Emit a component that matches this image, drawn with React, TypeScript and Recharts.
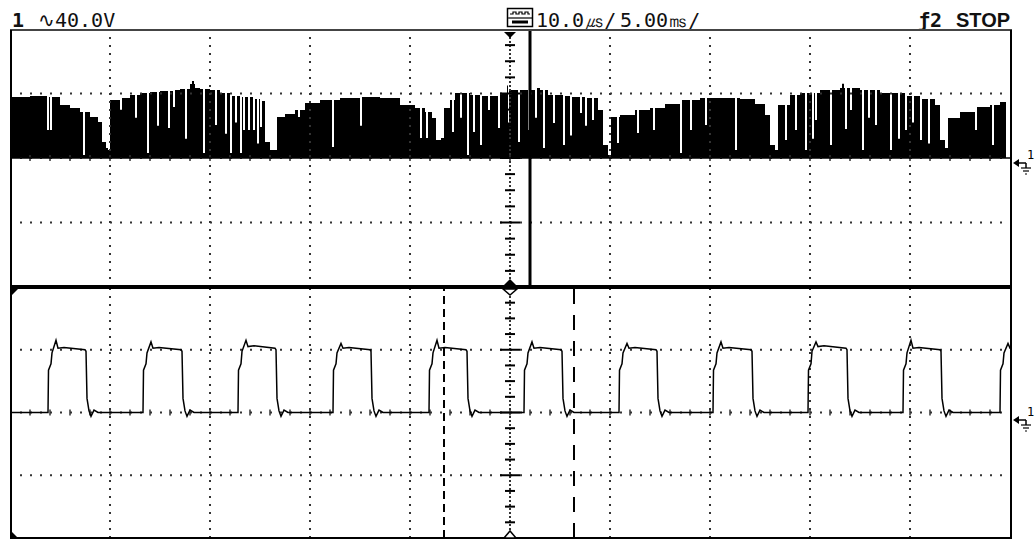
import React from 'react'
import { ComposedChart, Area, Line, XAxis, YAxis, ReferenceLine } from 'recharts'

// upper window: main sweep, 5.00 ms/div, 40.0 V/div (time in ms, level in V)
const envelopeMs = [
  0, 1.0, 1.85, 2.1, 2.5, 3.0, 3.5, 4.0, 4.4, 4.6, 4.8, 4.9,
  5.0, 5.5, 6.0, 6.5, 7.0, 7.5, 8.0, 8.5, 9.0, 9.25, 9.5, 10.0, 10.5, 11.0, 11.5, 12.0, 12.5, 12.75, 13.0,
  13.35, 13.75, 14.25, 14.75, 15.5, 16.5, 17.5, 18.5, 19.5, 20.25, 20.75, 21.1, 21.3, 21.55,
  21.7, 22.0, 22.25, 23.0, 23.5, 24.0, 24.5, 25.0, 25.5, 26.0, 26.5, 26.9, 27.25, 28.0, 28.75, 29.4, 29.65, 29.9,
  30.05, 30.5, 31.25, 32.0, 32.75, 33.5, 34.5, 35.5, 36.5, 37.25, 37.75, 38.0, 38.25,
  38.4, 39.0, 39.5, 40.5, 41.5, 42.5, 43.5, 44.5, 45.5, 46.25, 46.5, 46.75,
  46.9, 47.5, 48.25, 49.0, 49.5, 49.8,
]
const envelopeV = [
  37.8, 38.4, 37.8, 34.1, 32.9, 31.0, 28.5, 25.4, 22.3, 9.9, 6.2, 5.0,
  36.0, 37.2, 39.1, 40.3, 40.9, 41.5, 42.2, 42.8, 45.9, 43.4, 42.8, 42.2, 40.3, 38.4, 37.8, 36.6, 35.3, 9.9, 5.0,
  25.4, 27.3, 29.8, 34.1, 36.0, 37.2, 37.8, 37.2, 32.9, 31.0, 28.5, 24.8, 11.2, 12.4,
  31.0, 36.0, 40.3, 39.1, 38.4, 40.3, 42.2, 42.2, 42.2, 43.4, 42.2, 39.1, 38.4, 37.8, 37.2, 29.8, 8.1, 1.9,
  25.4, 26.7, 29.8, 31.0, 33.5, 36.0, 37.2, 37.2, 36.6, 33.5, 26.7, 8.1, 5.0,
  32.9, 39.1, 40.3, 42.2, 43.4, 42.2, 40.3, 38.4, 36.6, 32.9, 11.2, 6.2,
  24.8, 28.5, 31.6, 32.9, 34.7, 0,
]
// thin white notches cut into the burst (and a few spikes standing above it)
const gapMs = [
  1.85, 2.0, 3.65, 5.5, 6.25, 6.85, 7.35, 7.9, 8.15, 8.75, 9.1, 9.65, 10.25, 10.75, 11.0, 11.25, 11.5,
  11.65, 11.9, 12.15, 12.35, 12.5,
  14.4, 16.1, 17.5, 20.5, 20.8, 22.1, 22.5, 22.85, 23.15, 23.5, 23.9, 24.4, 24.85, 24.9, 25.4, 25.9,
  26.25, 26.65, 27.15, 27.65, 28.0, 28.5, 28.75, 29.1,
  30.35, 31.35, 32.15, 33.5, 34.0, 34.75, 36.25, 38.75, 39.25, 39.75, 40.1, 40.25, 41.0, 41.6, 41.75,
  42.0, 42.6, 42.9, 43.25, 44.0, 44.4, 44.75, 45.1, 45.5, 45.9, 48.25, 49.1,
]
const gapV = [
  17.4, 17.4, 1.9, 30.0, 25.0, 3.1, 20.0, 18.6, 31.6, 12.0, 47.7, 3.1, 20.5, 15.0, 3.1, 22.0, 3.1,
  17.4, 17.4, 17.4, 9.0, 19.2,
  25.4, 6.8, 20.0, 12.4, 12.4, 16.1, 25.0, 1.9, 16.1, 8.0, 29.8, 18.6, 45.0, 22.0, 10.0, 17.4,
  25.0, 6.2, 21.7, 8.1, 14.0, 27.9, 20.0, 23.6,
  9.3, 15.5, 17.4, 3.1, 17.4, 20.5, 5.0, 11.2, 17.4, 5.0, 12.0, 23.6, 8.1, 46.0, 18.0,
  29.8, 5.0, 25.0, 20.5, 5.0, 12.0, 17.4, 22.0, 11.2, 9.0, 17.4, 8.1,
]

// lower window: 10.0 µs/div (time in µs, level in V)
const riseUs = [3.8, 13.3, 22.8, 32.3, 41.9, 51.4, 60.9, 70.3, 79.8, 89.3, 99.0]
const fallUs = [7.6, 17.2, 26.6, 36.1, 45.7, 55.2, 64.7, 74.2, 83.7, 93.1]
const peakV = [46, 45, 46, 44, 46, 45, 44, 45, 45, 46, 44]
const highV = [40, 40, 41, 40, 40, 40, 40, 40, 41, 40, 40]

const cursorUs = [43.4, 56.4]
const delayMs = 26

const topGridMs = [5, 10, 15, 20, 30, 35, 40, 45]
const bottomGridUs = [10, 20, 30, 40, 60, 70, 80, 90]
const gridV = [-40, 40]

const topData = (() => {
  const pts = envelopeMs.map((t, i) => ({ t, v: envelopeV[i] }))
  gapMs.forEach((g, i) => {
    let k = 0
    while (k + 1 < envelopeMs.length && envelopeMs[k + 1] <= g) k++
    pts.push({ t: g, v: gapV[i] })
    pts.push({ t: g + 0.1, v: envelopeV[k] })
  })
  pts.sort((a, b) => a.t - b.t)
  pts.push({ t: 50, v: 0 })
  return pts
})()

const pulseData = (() => {
  const pts = [{ t: 0, v: 0 }]
  riseUs.forEach((r, i) => {
    const h = highV[i]
    pts.push(
      { t: r, v: 0 },
      { t: r + 0.05, v: 27 },
      { t: r + 0.3, v: 31 },
      { t: r + 0.4, v: h - 2 },
      { t: r + 0.8, v: peakV[i] },
      { t: r + 1.0, v: h + 1 },
      { t: r + 1.6, v: h + 1.5 },
    )
    const f = fallUs[i]
    if (f === undefined) return
    pts.push(
      { t: f - 0.1, v: h },
      { t: f, v: h - 1 },
      { t: f + 0.1, v: 9 },
      { t: f + 0.3, v: 1 },
      { t: f + 0.5, v: -2.5 },
      { t: f + 0.8, v: 1.5 },
      { t: f + 1.2, v: 0 },
    )
  })
  return pts
})()

const DOT = '#333'

function graticule(gridX: number[], center: number, xSpan: number, xMax: number) {
  const lines: React.ReactNode[] = []
  gridX.forEach((x) =>
    lines.push(<ReferenceLine key={'gx' + x} x={x} stroke={DOT} strokeWidth={2} strokeDasharray="2 6" />),
  )
  gridV.forEach((v) =>
    lines.push(<ReferenceLine key={'gy' + v} y={v} stroke={DOT} strokeWidth={2} strokeDasharray="2 8" />),
  )
  lines.push(<ReferenceLine key="cy" y={0} stroke={DOT} strokeWidth={2} strokeDasharray="2 8" />)
  lines.push(<ReferenceLine key="cx" x={center} stroke={DOT} strokeWidth={2} strokeDasharray="2 2" />)
  // ticks on the centre column, 4 per division
  for (let v = -70; v <= 70; v += 10) {
    const w = v % 40 === 0 ? xSpan : xSpan / 2
    lines.push(
      <ReferenceLine
        key={'tc' + v}
        segment={[{ x: center - w, y: v }, { x: center + w, y: v }]}
        stroke="#000"
        strokeWidth={2}
      />,
    )
  }
  // ticks on the centre row, 5 per division
  const step = xMax / 50
  for (let i = 1; i < 50; i++) {
    const x = i * step
    lines.push(
      <ReferenceLine key={'tr' + i} segment={[{ x, y: -1.9 }, { x, y: 1.9 }]} stroke={DOT} strokeWidth={1.5} />,
    )
  }
  return lines
}

const mono = '"DejaVu Sans Mono", monospace'

function Header() {
  const base: React.CSSProperties = { position: 'absolute', top: 10, lineHeight: '20px', fontSize: 20, color: '#111' }
  return (
    <>
      <div style={{ ...base, left: 12, fontFamily: mono, fontWeight: 'bold' }}>1</div>
      <div style={{ ...base, left: 38, fontFamily: mono }}>∿40.0V</div>
      <div style={{ ...base, left: 536, fontFamily: mono }}>10.0㎲/</div>
      <div style={{ ...base, left: 620, fontFamily: mono }}>5.00㎳/</div>
      <div style={{ ...base, left: 918, fontFamily: mono, fontWeight: 'bold' }}>ƒ2</div>
      <div style={{ ...base, left: 956, fontFamily: '"Liberation Sans", sans-serif', fontWeight: 'bold' }}>STOP</div>
    </>
  )
}

function Overlay() {
  return (
    <svg width={1035} height={540} style={{ position: 'absolute', left: 0, top: 0, pointerEvents: 'none' }}>
      {/* frame */}
      <line x1={10} y1={30} x2={1012} y2={30} stroke="#444" strokeWidth={2} />
      <line x1={11} y1={30} x2={11} y2={539} stroke="#000" strokeWidth={2} />
      <line x1={1011} y1={30} x2={1011} y2={539} stroke="#000" strokeWidth={2} />
      <line x1={10} y1={538} x2={1012} y2={538} stroke="#000" strokeWidth={2} />
      <line x1={10} y1={287} x2={1012} y2={287} stroke="#000" strokeWidth={4} />
      {/* window markers */}
      <polygon points="504,32 516,32 510,38" fill="#000" />
      <polygon points="502,287 510,279 518,287" fill="#000" />
      <polygon points="503,289 510,295 517,289" fill="#fff" stroke="#000" strokeWidth={1.5} />
      <polygon points="504,538 510,531 516,538" fill="#fff" stroke="#000" strokeWidth={1.5} />
      <polygon points="11,289 18,289 11,296" fill="#000" />
      <polygon points="11,531 11,538 18,538" fill="#000" />
      {/* timebase icon */}
      <rect x={507.5} y={8.5} width={25} height={18} fill="#fff" stroke="#000" strokeWidth={1.5} />
      <polyline points="510,14 513,14 513,12 516,12 516,14 519,14 519,12 522,12 522,14 525,14 525,12 528,12 528,14 530,14" fill="none" stroke="#000" strokeWidth={1.2} />
      <line x1={508} y1={18} x2={532} y2={18} stroke="#000" strokeWidth={1.2} />
      <rect x={512} y={20.5} width={16} height={3} fill="#000" />
      {/* ground reference markers */}
      {[163, 420].map((y) => (
        <g key={y}>
          <polygon points={`1013,${y} 1019,${y - 4} 1019,${y + 4}`} fill="#000" />
          <line x1={1018} y1={y} x2={1026} y2={y} stroke="#000" strokeWidth={1.5} />
          <line x1={1026} y1={y} x2={1026} y2={y + 5} stroke="#000" strokeWidth={1.5} />
          <line x1={1021} y1={y + 5} x2={1031} y2={y + 5} stroke="#000" strokeWidth={1.2} />
          <line x1={1023} y1={y + 8} x2={1029} y2={y + 8} stroke="#000" strokeWidth={1.2} />
          <line x1={1025} y1={y + 11} x2={1027} y2={y + 11} stroke="#000" strokeWidth={1.2} />
          <text x={1027} y={y - 4} fontSize={12} fontFamily={mono}>1</text>
        </g>
      ))}
    </svg>
  )
}

export default function App() {
  return (
    <div style={{ position: 'absolute', left: 0, top: 0, width: 1035, height: 540, background: '#fff', overflow: 'hidden' }}>
      <Header />
      <div style={{ position: 'absolute', left: 10, top: 29 }}>
        <ComposedChart width={1000} height={258} data={topData} margin={{ top: 0, right: 0, bottom: 0, left: 0 }}>
          <XAxis dataKey="t" type="number" domain={[0, 50]} allowDataOverflow hide />
          <YAxis type="number" domain={[-80, 80]} allowDataOverflow hide />
          {graticule(topGridMs, 25, 0.5, 50)}
          <Area
            type="stepAfter"
            dataKey="v"
            baseValue={0}
            stroke="none"
            fill="#000"
            fillOpacity={1}
            isAnimationActive={false}
          />
          <ReferenceLine y={0} stroke="#000" strokeWidth={1.5} />
          <ReferenceLine x={delayMs} stroke="#000" strokeWidth={3} />
        </ComposedChart>
      </div>
      <div style={{ position: 'absolute', left: 10, top: 287 }}>
        <ComposedChart width={1000} height={251} data={pulseData} margin={{ top: 0, right: 0, bottom: 0, left: 0 }}>
          <XAxis dataKey="t" type="number" domain={[0, 100]} allowDataOverflow hide />
          <YAxis type="number" domain={[-80, 80]} allowDataOverflow hide />
          {graticule(bottomGridUs, 50, 1, 100)}
          {cursorUs.map((c, i) => (
            <ReferenceLine
              key={c}
              x={c}
              stroke="#000"
              strokeWidth={2}
              strokeDasharray={i === 0 ? '8 5' : '15 11'}
            />
          ))}
          <Line
            type="linear"
            dataKey="v"
            stroke="#000"
            strokeWidth={1.5}
            dot={false}
            isAnimationActive={false}
          />
        </ComposedChart>
      </div>
      <Overlay />
    </div>
  )
}
